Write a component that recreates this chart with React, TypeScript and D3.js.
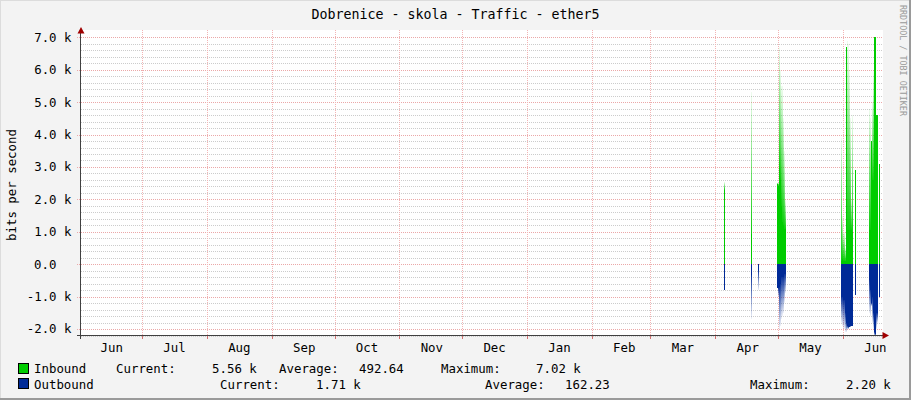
import * as d3 from "d3";

// samples, 12h apart (UTC)
const times = [
  "2015-04-05T12", "2015-04-18T12", "2015-04-21T12",
  "2015-04-30T12", "2015-05-01T00", "2015-05-01T12", "2015-05-02T00", "2015-05-02T12",
  "2015-05-03T00", "2015-05-03T12", "2015-05-04T00", "2015-05-04T12",
  "2015-05-31T12", "2015-06-01T00", "2015-06-01T12", "2015-06-02T00", "2015-06-02T12",
  "2015-06-03T00", "2015-06-03T12", "2015-06-04T00", "2015-06-04T12", "2015-06-05T00",
  "2015-06-05T12", "2015-06-07T00",
  "2015-06-13T12", "2015-06-14T00", "2015-06-14T12", "2015-06-15T00", "2015-06-15T12",
  "2015-06-16T00", "2015-06-16T12", "2015-06-17T00", "2015-06-17T12", "2015-06-18T12",
];
// inbound bits/s: average (solid) and peak (faded)
const inAvg = [
  2280, 930, 0,
  2470, 2400, 3000, 2600, 1800, 1300, 1200, 1100, 1100,
  100, 150, 100, 100, 6700, 1050, 1050, 1050, 1050, 1050, 1000, 2900,
  1050, 1050, 3800, 2600, 2600, 7000, 7000, 4600, 4600, 3100,
];
const inMax = [
  2550, 5300, 0,
  2500, 2500, 6700, 6000, 5500, 5500, 4500, 3500, 2000,
  3900, 1500, 1000, 500, 6700, 6900, 6800, 6000, 4500, 2000, 4600, 2900,
  4800, 4500, 3800, 5000, 6000, 7020, 7000, 4600, 4600, 3100,
];
// outbound bits/s, drawn below zero
const outAvg = [
  800, 340, 200,
  740, 740, 700, 600, 400, 400, 400, 300, 300,
  1000, 1000, 1100, 1500, 1800, 1900, 1950, 1950, 1900, 1900, 1900, 950,
  500, 800, 1200, 1000, 1500, 2100, 2150, 1500, 1500, 1000,
];
const outMax = [
  800, 1700, 800,
  740, 1000, 2000, 1900, 1700, 1600, 1500, 1200, 900,
  1800, 1900, 2000, 2100, 2100, 2000, 2000, 1950, 1950, 1900, 1900, 950,
  1500, 1600, 1300, 1800, 2000, 2200, 2200, 2000, 1800, 1000,
];

const yTicks = [-2000, -1000, 0, 1000, 2000, 3000, 4000, 5000, 6000, 7000];
const yTickLabels = ["-2.0 k", "-1.0 k", "0.0", "1.0 k", "2.0 k", "3.0 k", "4.0 k", "5.0 k", "6.0 k", "7.0 k"];

const W = 911;
const H = 400;
const FONT = "'DejaVu Sans Mono', monospace";
const GREEN = "#00cc00";
const BLUE = "#002a97";
const STEP = 12 * 3600 * 1000;

const parse = (s: string) => new Date(s + ":00:00Z");

export default function App() {
  const x = d3.scaleUtc()
    .domain([new Date("2014-06-01T19:30:00Z"), new Date("2015-06-20T03:30:00Z")])
    .range([81, 883]);
  const y = d3.scaleLinear().domain([-2200, 7020]).range([335.5, 36.7]);

  const monthStarts = d3.utcMonth.range(new Date("2014-07-01T00:00:00Z"), new Date("2015-06-02T00:00:00Z"));
  const monthMids = d3.utcMonth
    .range(new Date("2014-06-01T00:00:00Z"), new Date("2015-06-02T00:00:00Z"))
    .map(d => new Date(d.getTime() + 15.5 * 86400000));
  const minor = d3.range(-2200, 7001, 200).filter(v => v % 1000 !== 0);

  const cols = times.map((t, i) => {
    const d = parse(t);
    const x0 = Math.floor(x(d));
    let x1 = Math.floor(x(new Date(d.getTime() + STEP)));
    if (x1 <= x0) x1 = x0 + 1;
    return { x0, w: x1 - x0, i };
  });

  const legend1 = [
    { t: "Inbound", x: 34 }, { t: "Current:", x: 116 }, { t: "5.56 k", x: 212 },
    { t: "Average:", x: 279 }, { t: "492.64", x: 359 }, { t: "Maximum:", x: 441 }, { t: "7.02 k", x: 536 },
  ];
  const legend2 = [
    { t: "Outbound", x: 34 }, { t: "Current:", x: 220 }, { t: "1.71 k", x: 316 },
    { t: "Average:", x: 485 }, { t: "162.23", x: 565 }, { t: "Maximum:", x: 750 }, { t: "2.20 k", x: 846 },
  ];

  return (
    <>
      <style>{`body{margin:0}`}</style>
      <svg width={W} height={H} style={{ display: "block", fontFamily: FONT }}>
        <defs>
          <linearGradient id="fadeIn" x1="0" y1="1" x2="0" y2="0">
            <stop offset="0" stopColor={GREEN} stopOpacity={0.95} />
            <stop offset="1" stopColor={GREEN} stopOpacity={0.06} />
          </linearGradient>
          <linearGradient id="fadeOut" x1="0" y1="0" x2="0" y2="1">
            <stop offset="0" stopColor={BLUE} stopOpacity={0.95} />
            <stop offset="1" stopColor={BLUE} stopOpacity={0.06} />
          </linearGradient>
        </defs>
        <rect x={0} y={0} width={W} height={H} fill="#f3f3f3" />
        <rect x={0} y={0} width={W} height={1} fill="#dcdcdc" />
        <rect x={0} y={0} width={1} height={H} fill="#dcdcdc" />
        <rect x={W - 2} y={0} width={2} height={H} fill="#9a9a9a" />
        <rect x={0} y={H - 2} width={W} height={2} fill="#9a9a9a" />

        {/* plot area */}
        <rect x={81} y={30} width={802} height={306} fill="#ffffff" />

        <g shapeRendering="crispEdges">
          {minor.map(v => (
            <line key={"mn" + v} x1={81} x2={883} y1={Math.round(y(v)) + 0.5} y2={Math.round(y(v)) + 0.5}
              stroke="#cccccc" strokeDasharray="1,1" />
          ))}
          {yTicks.map(v => (
            <line key={"mj" + v} x1={77} x2={883} y1={Math.round(y(v)) + 0.5} y2={Math.round(y(v)) + 0.5}
              stroke="#eba8a8" strokeDasharray="1,1" />
          ))}
          {monthStarts.map(d => (
            <line key={"mv" + d.getTime()} x1={Math.round(x(d)) + 0.5} x2={Math.round(x(d)) + 0.5} y1={30} y2={339}
              stroke="#f3b4b4" strokeDasharray="1,1" />
          ))}
        </g>

        {/* traffic */}
        <g shapeRendering="crispEdges">
          {cols.map(c => {
            const i = c.i;
            const y0 = Math.round(y(0));
            const ya = Math.round(y(inAvg[i]));
            const ym = Math.round(y(inMax[i]));
            const yo = Math.round(y(-outAvg[i]));
            const yom = Math.round(y(-outMax[i]));
            return (
              <g key={"c" + i}>
                {ym < ya && <rect x={c.x0} y={ym} width={c.w} height={ya - ym} fill="url(#fadeIn)" />}
                {ya < y0 && <rect x={c.x0} y={ya} width={c.w} height={y0 - ya} fill={GREEN} />}
                {yo > y0 && <rect x={c.x0} y={y0} width={c.w} height={yo - y0} fill={BLUE} />}
                {yom > yo && <rect x={c.x0} y={yo} width={c.w} height={yom - yo} fill="url(#fadeOut)" />}
              </g>
            );
          })}
        </g>

        {/* axes */}
        <g shapeRendering="crispEdges">
          <line x1={77} x2={884} y1={335.5} y2={335.5} stroke="#404040" />
          <line x1={80.5} x2={80.5} y1={31} y2={339} stroke="#404040" />
          {monthStarts.map(d => (
            <line key={"tk" + d.getTime()} x1={Math.round(x(d)) + 0.5} x2={Math.round(x(d)) + 0.5} y1={336} y2={339}
              stroke="#d07070" />
          ))}
        </g>
        <path d="M81,27 L77.5,33.5 L84.5,33.5 Z" fill="#a00000" />
        <path d="M889,335.5 L882.5,332 L882.5,339 Z" fill="#a00000" />

        {/* y labels */}
        {yTicks.map((v, k) => (
          <text key={"yl" + v} x={v === 0 ? 56.5 : 71.5} y={y(v)} dy="0.36em" textAnchor="end"
            fontSize={12.4} fill="#000">{yTickLabels[k]}</text>
        ))}
        <text transform="translate(16,185) rotate(-90)" textAnchor="middle" fontSize={12.4} fill="#000">
          bits per second
        </text>

        {/* x labels */}
        {monthMids.map(d => (
          <text key={"xl" + d.getTime()} x={x(d)} y={352} textAnchor="middle" fontSize={12.4} fill="#000">
            {d3.utcFormat("%b")(d)}
          </text>
        ))}

        {/* title */}
        <text x={455.5} y={19} textAnchor="middle" fontSize={13.3} fill="#000">
          Dobrenice - skola - Traffic - ether5
        </text>
        <text transform="translate(900,5) rotate(90)" fontSize={8.4} fill="#9a9a9a">
          RRDTOOL / TOBI OETIKER
        </text>

        {/* legend */}
        <rect x={18.5} y={363.5} width={10} height={10} fill={GREEN} stroke="#000" />
        <rect x={18.5} y={378.5} width={10} height={10} fill={BLUE} stroke="#000" />
        {legend1.map(l => (
          <text key={"l1" + l.x} x={l.x} y={373} fontSize={12.4} fill="#000">{l.t}</text>
        ))}
        {legend2.map(l => (
          <text key={"l2" + l.x} x={l.x} y={388.5} fontSize={12.4} fill="#000">{l.t}</text>
        ))}
      </svg>
    </>
  );
}
